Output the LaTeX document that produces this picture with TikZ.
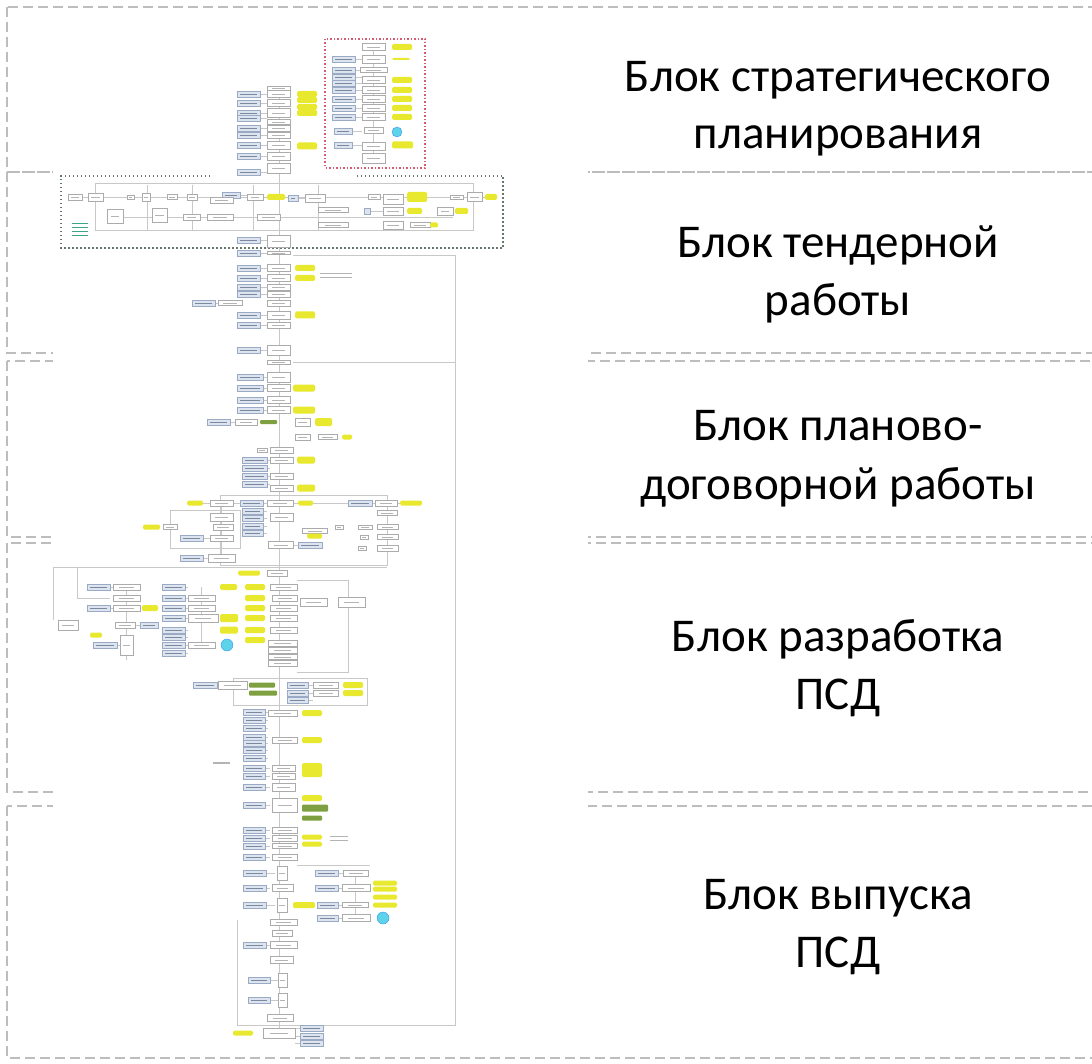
\documentclass[tikz,border=0pt]{standalone}
\usepackage{fontspec}
\setmainfont{Carlito}
\definecolor{dashgray}{HTML}{BDBDBD}
\definecolor{bxfill}{HTML}{DCE4EF}
\definecolor{bxdraw}{HTML}{9AAAC4}
\definecolor{flowdraw}{HTML}{ABABAB}
\definecolor{txtgray}{HTML}{B4B4B4}
\definecolor{hlyellow}{HTML}{E8E82E}
\definecolor{hlgreen}{HTML}{7FA040}
\definecolor{cyanc}{HTML}{5CD3E8}
\definecolor{redbox}{HTML}{D85A70}
\definecolor{greenbox}{HTML}{66786A}
\definecolor{tealt}{HTML}{3AA58A}
\definecolor{lineg}{HTML}{C8C8C8}
\tikzset{
  bxs/.style={fill=bxfill, draw=bxdraw, line width=0.5pt},
  bxt/.style={draw=bxdraw!80!black, line width=0.6pt},
  fls/.style={fill=white, draw=flowdraw, line width=0.5pt},
  flt/.style={draw=txtgray, line width=0.8pt},
  yls/.style={fill=hlyellow, rounded corners=1.5pt},
  grs/.style={fill=hlgreen, rounded corners=1pt},
  conn/.style={draw=lineg, line width=0.5pt},
  frm/.style={draw=lineg, line width=0.6pt},
  band/.style={draw=dashgray, line width=1.6pt, dash pattern=on 10pt off 5pt},
  lab/.style={font=\fontsize{47}{58}\selectfont, anchor=base, inner sep=0pt},
  cyc/.style={fill=cyanc, draw=cyanc!70!blue, line width=0.4pt},
}
\newcommand\mkbx[4]{%
  \draw[conn] (#2,#3) -- (#4,#3);
  \path[bxs] (#1,#3-3) rectangle (#2,#3+3);
  \draw[bxt] ({#1+3},#3) -- ({#2-3},#3);}
\newcommand\mkfl[4]{%
  \path[fls] (#1,{#3-#4/2}) rectangle (#2,{#3+#4/2});
  \draw[flt] ({#1+0.22*(#2-#1)},#3) -- ({#2-0.22*(#2-#1)},#3);}
\newcommand\mkyl[4]{\path[yls] (#1,{#3-#4/2}) rectangle (#2,{#3+#4/2});}
\newcommand\mkgr[4]{\path[grs] (#1,{#3-#4/2}) rectangle (#2,{#3+#4/2});}
\begin{document}
\begin{tikzpicture}[x=1pt,y=-1pt]
\useasboundingbox (0,0) rectangle (1092,1064);
% bands
\draw[band] (7,7) rectangle (1100,172);
\draw[band] (7,172) rectangle (1100,353);
\draw[band] (7,361) rectangle (1100,537);
\draw[band] (7,543) rectangle (1100,792);
\draw[band] (7,806) rectangle (1100,1058);
% flowchart thumbnail area
\fill[white] (53,12) rectangle (588,1051);
% frames and spines
\draw[conn] (279,88) -- (279,1030);
\draw[conn] (373,43) -- (373,163);
\draw[frm] (293,255) -- (455,255);
\draw[frm] (293,362) -- (455,362);
\draw[frm] (455,255) -- (455,1025) -- (237,1025) -- (237,920);
\draw[frm] (95,183) rectangle (473,230);
\foreach \v in {147,192,253,318} \draw[frm] (\v,185) -- (\v,230);
\draw[conn] (68,197) -- (497,197);
\draw[conn] (107,217) -- (453,217);
\draw[frm] (220,495) rectangle (387,565);
\draw[frm] (170,510) rectangle (240,548);
\draw[conn] (187,503) -- (422,503);
\draw[conn] (221,503) -- (221,558);
\draw[conn] (387,503) -- (387,548);
\draw[frm] (53,567) -- (387,567);
\draw[frm] (53,567) -- (53,620);
\draw[frm] (77,567) -- (77,598) -- (110,598);
\draw[conn] (201,587) -- (201,645);
\draw[conn] (126,587) -- (126,660);
\draw[frm] (297,580) -- (348,580) -- (348,672) -- (297,672);
\draw[frm] (233,678) rectangle (367,705);
\draw[conn] (355,873) -- (355,918);
\draw[frm] (297,865) -- (370,865);
% red dotted box
\draw[redbox, line width=1.4pt, dash pattern=on 1.5pt off 2pt] (325,39) rectangle (425,168);
% green dotted box
\draw[greenbox, line width=1.4pt, dash pattern=on 1.5pt off 2.5pt] (210,176) -- (61,176) -- (61,248) -- (503,248) -- (503,176) -- (355,176);
% blue boxes x1/x2/y/target
\foreach \a/\b/\c/\d in {
 237/260/94/267, 237/260/103/267, 237/260/113/267, 237/260/118/267, 237/260/128/267, 237/260/135/267, 237/260/145/267, 237/260/156/267, 237/260/172/267,
 332/355/59/362, 332/355/70/360, 332/355/77/362, 332/355/83/362, 332/355/90/362, 332/355/99/362, 332/355/108/362, 332/355/117/362, 334/352/131/362, 334/352/145/362,
 222/240/195/247, 288/298/198/305, 364/370/211/383,
 237/260/240/267, 237/260/253/267, 237/260/268/267, 237/260/278/267, 237/260/287/267, 237/260/294/267, 192/215/303/218, 237/260/315/267, 237/260/325/267, 237/260/350/267,
 237/263/377/267, 237/263/388/267, 237/263/400/267, 237/263/410/267, 207/230/422/235, 242/267/460/270, 242/267/468/270, 242/267/476/270, 242/267/484/270,
 240/263/503/267, 348/372/503/375, 242/263/511/267, 242/263/518/267, 242/263/526/267, 242/263/533/267, 180/203/538/210, 298/322/545/293, 180/203/558/208,
 87/110/587/113, 87/110/608/113, 162/185/587/188, 162/185/598/188, 162/185/608/188, 162/185/618/188, 162/185/630/188, 162/185/637/188, 162/185/645/188, 162/185/653/188, 140/158/625/135, 93/117/645/120,
 193/217/685/218, 287/308/685/313, 287/308/693/313, 287/308/700/313,
 243/265/712/268, 243/265/720/268, 243/265/728/268, 243/265/737/268, 243/265/743/268, 243/265/750/268, 243/265/758/268, 243/265/768/270,
 243/265/776/270, 243/265/787/270, 243/265/805/270, 243/265/830/270, 243/265/838/270, 243/265/846/270, 243/265/857/270, 243/266/873/275, 315/338/873/343,
 243/266/888/270, 315/338/888/342, 243/266/905/275, 317/338/905/342, 317/338/918/342, 243/266/945/270, 248/270/980/278, 248/270/1000/278,
 300/323/1028/295, 300/323/1036/295, 300/323/1043/295}
 {\mkbx{\a}{\b}{\c}{\d}}
% flow boxes x1/x2/y/h
\foreach \a/\b/\c/\d in {
 267/290/88/4, 267/290/94/7, 267/290/103/7, 267/290/113/9, 267/290/122/5, 267/290/128/6, 267/290/135/6, 267/290/145/8, 267/290/156/8, 267/290/168/10,
 362/385/47/7, 362/385/59/8, 360/387/70/5, 362/385/80/7, 362/385/90/7, 362/385/99/7, 362/385/108/7, 362/385/117/7, 364/383/130/6, 362/385/146/8, 362/385/158/10,
 68/82/197/6, 88/103/197/8, 127/134/197/4, 142/150/197/8, 167/177/197/5, 187/197/197/6, 210/233/200/6, 247/263/197/6, 305/325/198/8, 368/380/197/5, 383/403/199/10, 450/463/197/4, 467/482/197/9,
 107/123/216/14, 152/167/215/14, 183/200/217/6, 207/233/217/6, 257/280/217/6, 318/348/210/5, 318/348/225/5, 383/403/211/8, 437/453/211/8, 383/403/225/8, 410/430/225/5,
 267/290/241/12,
 267/290/253/3, 267/290/268/7, 267/290/278/7, 267/290/287/6, 267/290/294/6, 218/242/303/5, 267/290/303/6, 267/290/315/8, 267/290/325/6, 267/290/350/10, 267/290/362/4,
 267/290/377/10, 267/290/388/7, 267/290/400/7, 267/290/410/7, 235/257/422/6, 295/310/422/8, 295/310/437/6, 318/337/437/5, 257/267/450/4, 270/293/450/6, 270/293/460/6, 270/293/476/6, 270/293/488/6,
 210/233/503/6, 267/293/503/6, 375/397/503/6, 210/233/517/8, 270/293/517/8, 377/397/513/5, 163/177/527/5, 213/233/527/6, 335/343/527/4, 358/372/527/4, 377/398/527/5, 302/327/531/5,
 210/233/538/6, 360/368/537/4, 377/398/537/5, 268/293/545/7, 358/366/548/4, 377/398/548/6, 208/235/558/8, 267/287/573/6,
 113/140/587/6, 113/140/598/6, 113/140/608/6, 188/215/598/6, 188/215/608/6, 188/218/618/8, 188/215/645/6, 270/297/587/6, 272/297/598/6, 270/297/608/6, 270/297/618/6, 270/297/630/6,
 300/327/602/8, 338/365/602/10, 58/78/625/10, 115/135/625/6, 268/297/643/6, 268/297/650/6, 268/297/657/5, 268/297/663/6, 120/133/645/20,
 218/247/685/8, 313/338/685/6, 313/338/693/6, 268/297/713/6, 272/297/740/6, 272/295/768/6,
 272/295/776/6, 272/295/787/8, 272/297/805/14, 272/297/830/6, 272/297/838/6, 272/297/846/5, 272/297/857/6, 277/287/873/14, 343/368/873/6, 272/293/888/7, 342/370/888/7,
 277/287/905/14, 342/368/905/5, 342/370/918/7, 270/297/922/6, 272/292/933/6, 270/297/945/7, 270/293/960/7, 278/287/980/14, 278/287/1000/14, 267/293/1018/7, 263/295/1033/10}
 {\mkfl{\a}{\b}{\c}{\d}}
% yellow highlights
\foreach \a/\b/\c/\d in {
 297/317/94/6, 297/317/100/6, 297/317/107/6, 297/317/113/6, 297/317/146/7,
 392/412/47/6, 392/410/59/2, 392/412/80/6, 392/412/90/6, 392/412/99/6, 392/412/108/6, 392/412/117/6, 392/413/145/7,
 267/285/197/6, 407/427/197/10, 407/422/211/6, 455/468/211/6, 430/438/225/5, 485/497/197/6,
 295/315/268/6, 295/315/278/6, 295/315/315/7,
 293/315/388/7, 293/315/410/7, 315/332/422/8, 342/352/437/5, 297/315/460/7, 297/315/488/7, 187/203/503/5, 298/313/503/5, 400/422/503/5, 143/160/527/5, 307/322/536/5, 238/260/573/5,
 220/237/587/6, 245/265/587/6, 245/265/598/6, 245/265/608/6, 142/158/608/6, 245/265/618/6, 220/238/618/8, 245/265/630/6, 220/238/630/7, 245/265/640/6, 90/102/635/5,
 343/363/685/6, 343/363/693/6, 302/322/713/6, 302/322/740/6, 302/322/768/10,
 302/322/773/8, 302/322/798/6, 302/322/837/5, 302/322/844/5, 373/397/883/5, 373/397/889/5, 373/397/897/5, 373/397/905/5, 293/315/905/6, 233/253/1033/5}
 {\mkyl{\a}{\b}{\c}{\d}}
% green highlights
\foreach \a/\b/\c/\d in {260/277/422/4, 249/275/685/5, 249/277/693/5, 302/328/808/7, 302/322/818/5}
 {\mkgr{\a}{\b}{\c}{\d}}
% cyan circles
\path[cyc] (397,132) circle (5pt);
\path[cyc] (227,645) circle (6pt);
\path[cyc] (383,918) circle (6pt);
% teal note in green box
\foreach \v in {223,227,231,235} \draw[tealt, line width=0.8pt] (72,\v) -- (88,\v);
% small gray notes
\foreach \v in {273,277} \draw[flt] (320,\v) -- (352,\v);
\foreach \v in {836,840} \draw[flt] (330,\v) -- (348,\v);
\draw[flt] (213,762) -- (230,762);
\draw[flt] (213,763) -- (230,763);
% labels
\node[lab] (l1a) at (838,92) {Блок стратегического};
\node[lab] (l1b) at (838,149) {планирования};
\node[lab] (l2a) at (838,258) {Блок тендерной};
\node[lab] (l2b) at (838,316) {работы};
\node[lab] (l3a) at (838,440) {Блок планово-};
\node[lab] (l3b) at (838,499) {договорной работы};
\node[lab] (l4a) at (838,651) {Блок разработка};
\node[lab] (l4b) at (838,709) {ПСД};
\node[lab] (l5a) at (838,909) {Блок выпуска};
\node[lab] (l5b) at (838,967) {ПСД};
\end{tikzpicture}
\end{document}
